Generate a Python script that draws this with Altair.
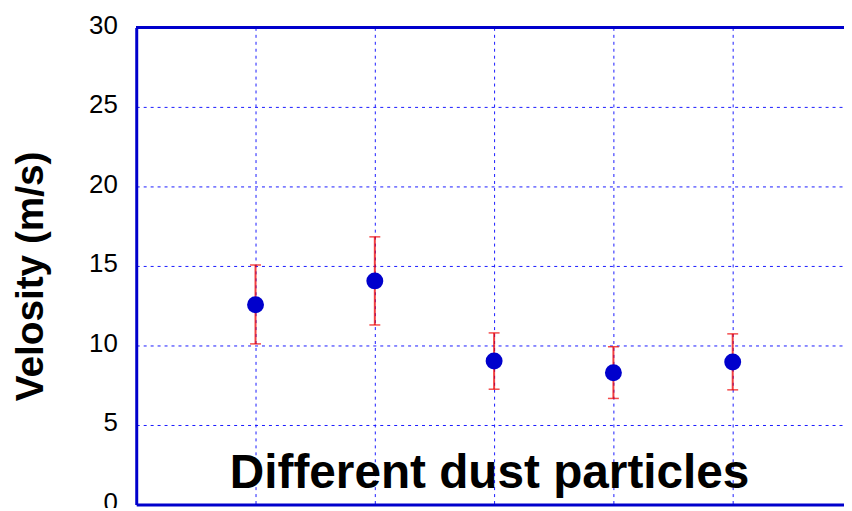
import altair as alt
import pandas as pd

# readings
particle = [1, 2, 3, 4, 5]
velocity = [12.56, 14.06, 9.02, 8.29, 8.96]
err_low = [10.1, 11.29, 7.25, 6.67, 7.21]
err_high = [15.06, 16.83, 10.79, 9.92, 10.73]
y_ticks = [0, 5, 10, 15, 20, 25, 30]

df = pd.DataFrame({
    "particle": particle,
    "velocity": velocity,
    "low": err_low,
    "high": err_high,
})

FONT = "Liberation Sans"
BLUE = "#0000cc"
GRID = "#1a1aff"

x_enc = alt.X(
    "particle:Q",
    scale=alt.Scale(domain=[0, 5.933], nice=False, zero=False),
    axis=alt.Axis(
        values=particle,
        labels=False,
        ticks=False,
        grid=True,
        gridColor=GRID,
        gridDash=[3, 4],
        gridWidth=1,
        domainColor=BLUE,
        domainWidth=3,
        title="Different dust particles",
        titleFont=FONT,
        titleFontSize=48,
        titleFontWeight="bold",
        titleColor="black",
        titleBaseline="alphabetic",
        titleX=355,
        titleY=-17,
    ),
)

y_scale = alt.Scale(domain=[0, 30], nice=False)
y_axis = alt.Axis(
    values=y_ticks,
    ticks=False,
    grid=True,
    gridColor=GRID,
    gridDash=[3, 4],
    gridWidth=1,
    domainColor=BLUE,
    domainWidth=3,
    labelFont=FONT,
    labelFontSize=26,
    labelColor="black",
    labelPadding=19,
    labelOffset=-2,
    title="Velosity (m/s)",
    titleFont=FONT,
    titleFontSize=39,
    titleFontWeight="bold",
    titleColor="black",
    titleBaseline="alphabetic",
    titleX=-94,
    titleY=250,
)

base = alt.Chart(df)

bars = base.mark_rule(color="#ee0000", strokeWidth=2, opacity=0.75).encode(
    x=x_enc,
    y=alt.Y("low:Q", scale=y_scale, axis=y_axis),
    y2="high:Q",
)

cap_low = base.mark_tick(color="#ee0000", size=11, thickness=1.5, orient="horizontal").encode(
    x="particle:Q", y="low:Q"
)
cap_high = base.mark_tick(color="#ee0000", size=11, thickness=1.5, orient="horizontal").encode(
    x="particle:Q", y="high:Q"
)

points = base.mark_circle(color=BLUE, size=290, opacity=1).encode(
    x="particle:Q", y="velocity:Q"
)

top_border = alt.Chart(df).mark_rule(color=BLUE, strokeWidth=3).encode(
    y=alt.datum(30)
)

chart = (
    alt.layer(bars, cap_low, cap_high, points, top_border)
    .properties(
        width=712,
        height=480,
        autosize=alt.AutoSizeParams(type="none"),
        padding={"left": 129, "top": 18, "right": 0, "bottom": 2},
    )
    .configure_view(stroke=None)
)

chart.save("out.html", embed_options={"renderer": "svg", "actions": False})
